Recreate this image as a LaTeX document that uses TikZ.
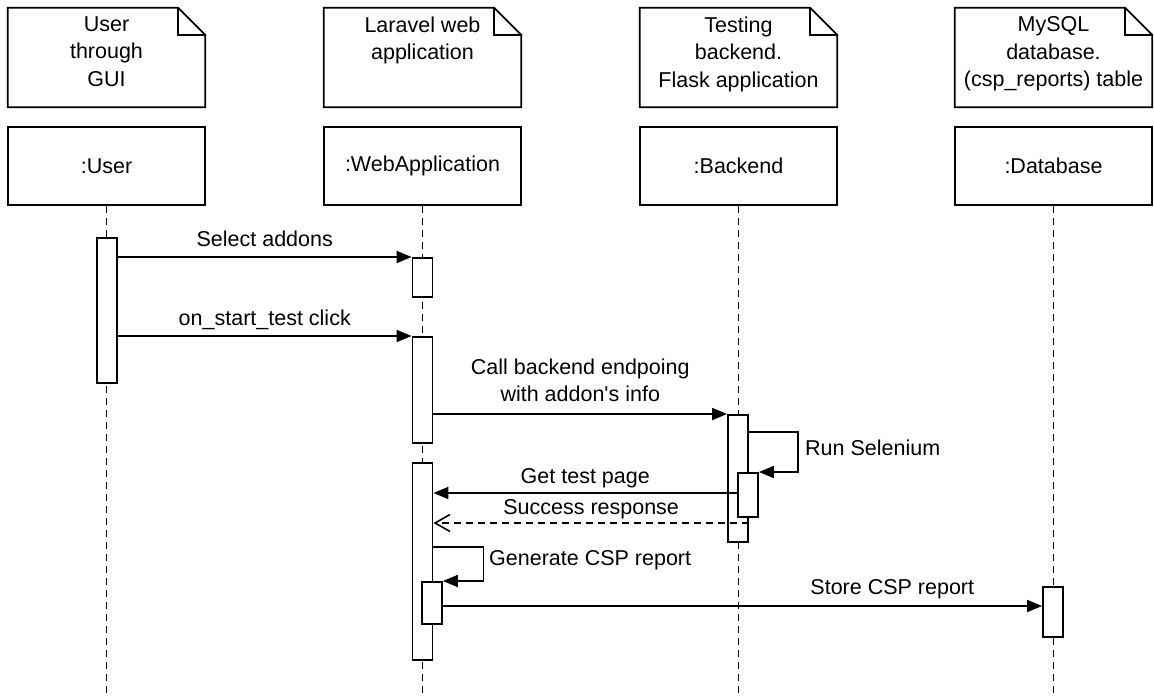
\documentclass[tikz,border=0pt]{standalone}
\usepackage{fontspec}
\setmainfont{Liberation Sans}
\newfontfamily\plainsans{Liberation Sans}
\usetikzlibrary{arrows.meta,calc}
\begin{document}
\begin{tikzpicture}[x=1pt,y=1pt,
  every node/.style={font=\fontsize{21.5}{27.5}\selectfont},
  lw/.style={line width=1.8pt},
  hdr/.style={draw, lw, minimum width=197pt, minimum height=78pt, inner sep=0pt},
  notebox/.style={minimum width=197pt, minimum height=99pt, inner sep=0pt},
  notetext/.style={align=center, inner sep=0pt, anchor=north},
  act/.style={draw, lw, fill=white, minimum width=20pt, inner sep=0pt, anchor=north},
  life/.style={lw, dash pattern=on 7pt off 5pt},
  msg/.style={lw, -{Triangle[length=15pt,width=12pt]}},
  ret/.style={lw, dash pattern=on 7pt off 5pt, -{Straight Barb[length=15pt,width=17pt,line width=1.6pt]}},
  lbl/.style={anchor=base, inner sep=0pt}]
\fill[white] (0,0) rectangle (1154,-697);
\useasboundingbox (0,0) rectangle (1154,-697);

% notes
\node[notebox] (n1) at (106.5,-57.5) {};
\node[notebox] (n2) at (422.5,-57.5) {};
\node[notebox] (n3) at (738.5,-57.5) {};
\node[notebox] (n4) at (1053.5,-57.5) {};
\foreach \n in {n1,n2,n3,n4}{
  \draw[lw, line join=miter] (\n.north west) -- ([xshift=-27pt]\n.north east) -- ([yshift=-27pt]\n.north east) -- (\n.south east) -- (\n.south west) -- cycle;
  \draw[lw] ([xshift=-27pt]\n.north east) |- ([yshift=-27pt]\n.north east);
}
\node[notetext] (t1) at ([yshift=-8.5pt]n1.north) {User\\through\\GUI};
\node[notetext] (t2) at ([yshift=-8.5pt]n2.north) {Laravel web\\application};
\node[notetext] (t3) at ([yshift=-8.5pt]n3.north) {Testing\\backend.\\Flask application};
\node[notetext] (t4) at ([yshift=-8.5pt]n4.north) {MySQL\\database.\\(csp\_reports) table};

% headers
\node[hdr] (h1) at (106.5,-166) {\raisebox{-2pt}{:User}};
\node[hdr] (h2) at (422.5,-166) {\raisebox{-2pt}{:WebApplication}};
\node[hdr] (h3) at (738.5,-166) {\raisebox{-2pt}{:Backend}};
\node[hdr] (h4) at (1053.5,-166) {\raisebox{-2pt}{:Database}};

% lifelines
\coordinate (bot) at (0,-697);
\foreach \h in {h1,h2,h3,h4}{
  \draw[life] (\h.south) -- (\h.south |- bot);
}

% activations
\node[act, minimum height=145pt] (uA) at (107,-237) {};
\node[act, minimum height=39pt] (wA1) at (422.5,-257) {};
\node[act, minimum height=106pt] (wA2) at (422.5,-336) {};
\node[act, minimum height=197pt] (wA3) at (422.5,-462) {};
\node[act, minimum height=42pt] (wN) at (432,-581) {};
\node[act, minimum height=127pt] (bA) at (738,-414) {};
\node[act, minimum height=44pt] (bN) at (748,-472) {};
\node[act, minimum height=50pt] (dA) at (1053,-586) {};

% messages
\draw[msg] (uA.east |- wA1.north west) -- (wA1.north west)
  node[lbl, midway, yshift=11pt] {Select addons};
\draw[msg] (uA.east |- wA2.north west) -- (wA2.north west)
  node[lbl, midway, yshift=11pt] {on\_start\_test click};
\draw[msg] (wA2.east |- bA.north west) -- (bA.north west)
  node[midway, anchor=south, align=center, inner sep=0pt, yshift=11pt] {Call backend endpoing\\with addon{\plainsans'}s info};
\draw[msg] (bA.east |- 0,-432) -- ++(49,0) |- (bN.north east);
\node[anchor=base west, inner sep=0pt] (rs) at (805,-455) {Run Selenium};
\draw[msg] (bN.west |- 0,-493) -- (wA3.east |- 0,-493)
  node[lbl, midway, yshift=10pt] {Get test page};
\draw[ret] (bA.east |- 0,-523) -- (wA3.east |- 0,-523)
  node[lbl, midway, yshift=9pt] {Success response};
\draw[msg] (wA3.east |- 0,-547) -- ++(50,0) |- (wN.north east);
\node[anchor=base west, inner sep=0pt] (gc) at (489,-565) {Generate CSP report};
\draw[msg] (wN.east |- 0,-606) -- (dA.west |- 0,-606)
  node[lbl, pos=0.75, yshift=12pt] {Store CSP report};
\end{tikzpicture}
\end{document}
